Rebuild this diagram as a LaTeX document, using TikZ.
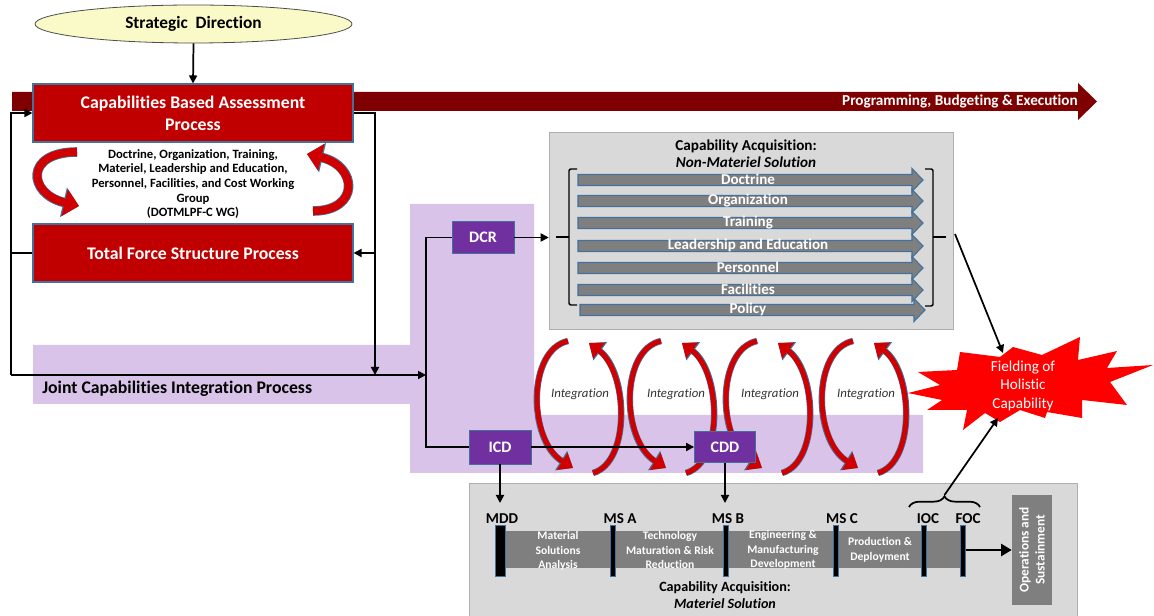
\documentclass[tikz,border=0pt]{standalone}
\usepackage{fontspec}
\setmainfont{Carlito}[Ligatures=NoCommon]
\usetikzlibrary{arrows.meta,shapes.geometric,decorations.pathreplacing,calc}

\definecolor{cbared}{HTML}{C00000}
\definecolor{pbered}{HTML}{7F0000}
\definecolor{edgeblue}{HTML}{41719C}
\definecolor{jcpurple}{HTML}{D9C3E9}
\definecolor{docpurple}{HTML}{7030A0}
\definecolor{panelgray}{HTML}{D9D9D9}
\definecolor{bargray}{HTML}{7F7F7F}
\definecolor{sdyellow}{HTML}{FAFAC8}
\definecolor{ribbonred}{HTML}{D00000}
\definecolor{starred}{HTML}{FF0000}

% curved ribbon arrow: outline pass, then red pass
\newcommand\ribbonarrow[5][small]{%
  \draw[ribbon edge #1] #2 .. controls #3 and #4 .. #5;
  \draw[ribbon fill #1] #2 .. controls #3 and #4 .. #5;
}

\begin{document}
\begin{tikzpicture}[x=0.75pt,y=-0.75pt,
  procbox/.style={draw=edgeblue, line width=0.8pt, fill=cbared, text=white,
    font=\bfseries\fontsize{13.3}{16.5}\selectfont, minimum width=240pt,
    minimum height=43.5pt, align=center, inner sep=0pt},
  docbox/.style={draw=edgeblue, line width=0.6pt, fill=docpurple, text=white,
    font=\bfseries\fontsize{12}{14}\selectfont, minimum width=46.5pt,
    minimum height=24pt, inner sep=0pt},
  panel/.style={fill=panelgray, draw=panelgray!80!black, line width=0.4pt, inner sep=0pt},
  flow/.style={line width=1.3pt, -{Triangle[length=6pt,width=6pt]}},
  link/.style={line width=1.3pt},
  lane/.style={fill=bargray, draw=edgeblue, line width=0.8pt},
  lanetext/.style={text=white, font=\bfseries\fontsize{11.3}{13}\selectfont, inner sep=0pt},
  milestone/.style={font=\bfseries\fontsize{11.3}{13}\selectfont, inner sep=0pt},
  phase/.style={text=white, font=\bfseries\fontsize{8.7}{10.9}\selectfont, align=center, inner sep=0pt},
  bar/.style={fill=black, draw=edgeblue, line width=0.6pt},
  ribbon edge small/.style={draw=edgeblue, line width=4.8pt, -{Triangle[length=10.5pt,width=16.5pt]}},
  ribbon fill small/.style={draw=ribbonred, line width=3.7pt, -{Triangle[length=9.5pt,width=14.5pt]}},
  ribbon edge big/.style={draw=edgeblue, line width=7.2pt, -{Triangle[length=12pt,width=22pt]}},
  ribbon fill big/.style={draw=ribbonred, line width=6pt, -{Triangle[length=11pt,width=20pt]}},
]
\useasboundingbox (0,0) rectangle (1154,616);

% ---- Joint Capabilities Integration Process area
\fill[jcpurple] (33,345) -- (410,345) -- (410,204) -- (534,204) -- (534,415)
  -- (923,415) -- (923,473) -- (410,473) -- (410,404) -- (33,404) -- cycle;
\node[anchor=west, font=\bfseries\fontsize{13.3}{15}\selectfont, inner sep=0pt] (jcip)
  at (42,389) {Joint Capabilities Integration Process};

% ---- acquisition panels
\node[panel, minimum width=303pt, minimum height=147.75pt] (nmbox) at (751,230.5) {};
\node[panel, minimum width=456pt, minimum height=99.75pt] (matbox) at (773,549.5) {};

% ---- programming, budgeting and execution arrow
\fill[pbered] (12,92) -- (1078,92) -- (1078,83) -- (1097,101.5) -- (1078,120)
  -- (1078,111) -- (12,111) -- cycle;
\node[anchor=east, text=white, font=\bfseries\fontsize{11.4}{13}\selectfont, inner sep=0pt]
  (pbe) at (1078,101.5) {Programming, Budgeting \& Execution};

% ---- strategic direction and the assessment loop
\node[ellipse, fill=sdyellow, draw=black!70, line width=0.6pt, minimum width=237.75pt,
  minimum height=28.5pt, inner sep=0pt, font=\bfseries\fontsize{13}{15}\selectfont]
  (sd) at (193.5,24) {Strategic\ \ Direction};
\node[procbox] (cba) at (193,113) {Capabilities Based Assessment\\Process};
\node[procbox] (tfs) at (193,253) {Total Force Structure Process};
\node[align=center, font=\bfseries\fontsize{9.5}{10.9}\selectfont, inner sep=0pt] (wg)
  at (193,184) {Doctrine, Organization, Training,\\Materiel, Leadership and Education,\\
  Personnel, Facilities, and Cost Working\\Group\\(DOTMLPF-C WG)};
\draw[flow] (sd.south) -- (cba.north);

\ribbonarrow[big]{(77,152)}{(24,152)}{(28,194)}{(79,206)}
\ribbonarrow[big]{(313,211)}{(360,211)}{(358,166)}{(307,154)}

\coordinate (lrail) at (11,375);
\coordinate (rrail) at (375,375);
\coordinate (vrail) at (426,375);
\draw[link] (tfs.west) -- (tfs.west -| lrail);
\draw[flow] (lrail) |- (cba.west);
\draw[flow] (lrail) -- (vrail);
\draw[flow] (cba.east) -| (rrail);
\draw[flow] (tfs.east -| rrail) -- (tfs.east);

% ---- integration ribbons (behind the documents and their arrows)
\foreach \dx/\tx [count=\i] in {0/580, 93/676, 189/770, 285/866} {
  \ribbonarrow{({568+\dx},341)}{({527+\dx},350)}{({528+\dx},440)}{({573+\dx},468)}
  \ribbonarrow{({593+\dx},473)}{({631+\dx},462)}{({628+\dx},372)}{({589+\dx},343)}
  \node[font=\itshape\fontsize{9.6}{11}\selectfont, text=black!80, inner sep=0pt]
    (integ\i) at (\tx,394.5) {Integration};
}

% ---- requirement documents
\node[docbox] (dcr) at (483,237.5) {DCR};
\node[docbox, minimum height=25.5pt] (icd) at (500,447) {ICD};
\node[docbox, minimum width=45.75pt, minimum height=23pt] (cdd) at (725,447) {CDD};
\draw[link] (dcr.west) -| (vrail) |- (icd.west);
\draw[flow] (dcr.east) -- (dcr.east -| nmbox.west);
\draw[flow] (icd.east) -- (cdd.west);

% ---- non-materiel solution lanes
\node[align=center, font=\bfseries\fontsize{11.4}{12.75}\selectfont, inner sep=0pt] (nmtitle)
  at (746,153.5) {Capability Acquisition:\\\textit{Non-Materiel Solution}};
\foreach \y/\lbl/\xs/\xe [count=\i] in {180/Doctrine/578/923, 201/Organization/578/923,
    223/Training/578/923, 246/Leadership and Education/578/923, 268/Personnel/578/923,
    290/Facilities/578/923, 310/Policy/580/925} {
  \draw[lane] (\xs,\y-5.5) -- (\xe-11,\y-5.5) -- (\xe-11,\y-11.5) -- (\xe,\y)
    -- (\xe-11,\y+11.5) -- (\xe-11,\y+5.5) -- (\xs,\y+5.5) -- cycle;
  \node[lanetext] (lane\i) at (748,\y-0.5) {\lbl};
}
\coordinate (brL) at (569,237);
\coordinate (brR) at (933,237);
\draw[link, line width=1.1pt, rounded corners=1.5pt] (577,169) -- (569,169) -- (569,305) -- (577,305);
\draw[link, line width=1.1pt, rounded corners=1.5pt] (925,169) -- (933,169) -- (933,306) -- (925,306);
\draw[link, line width=1.1pt] (brL) -- ++(-13,0);
\draw[link, line width=1.1pt] (brR) -- ++(13,0);

% ---- fielding burst
\fill[starred] (908,393) -- (940,385) -- (918,372) -- (957,370) -- (960,352) -- (1000,357)
  -- (1013,347) -- (1042,355) -- (1080,337) -- (1078,360) -- (1117,351) -- (1107,368)
  -- (1153,365) -- (1110,382) -- (1127,405) -- (1082,400) -- (1082,418) -- (1047,412)
  -- (1045,418) -- (1020,410) -- (1000,422) -- (985,413) -- (963,430) -- (967,410)
  -- (927,410) -- (942,400) -- cycle;
\node[align=center, text=white, font=\fontsize{11.4}{13.9}\selectfont, inner sep=0pt]
  (field) at (1023,385.5) {Fielding of\\Holistic\\Capability};
\coordinate (fieldN) at (1003,353);
\coordinate (fieldS) at (998,418);
\coordinate (nmout) at (955,234);
\draw[flow] (nmout) -- (fieldN);

% ---- materiel solution timeline
\fill[bargray] (505,531) rectangle (963,568);
\draw[bar] (495,525) rectangle (505,576);
\foreach \x in {613,726,836,924,963}
  \draw[bar] (\x-2.5,525) rectangle (\x+2.5,576);
\node[milestone] (mdd) at (502,519) {MDD};
\node[milestone] (msa) at (620,519) {MS A};
\node[milestone] (msb) at (728,519) {MS B};
\node[milestone] (msc) at (842,519) {MS C};
\node[milestone] (ioc) at (928,519) {IOC};
\node[milestone] (foc) at (968,519) {FOC};
\node[phase] (msa-ph) at (558,551) {Material\\Solutions\\Analysis};
\node[phase] (tmrr-ph) at (670,550) {Technology\\Maturation \& Risk\\Reduction};
\node[phase] (emd-ph) at (783,550) {Engineering \&\\Manufacturing\\Development};
\node[phase] (pd-ph) at (880,550) {Production \&\\Deployment};
\node[align=center, font=\bfseries\fontsize{10.6}{12.5}\selectfont, inner sep=0pt] (mattitle)
  at (725,595) {Capability Acquisition:\\\textit{Materiel Solution}};
\node[fill=bargray, minimum width=30pt, minimum height=83pt, inner sep=0pt] (ops) at (1032,550) {};
\node[rotate=90, align=center, text=white, font=\bfseries\fontsize{10}{12}\selectfont, inner sep=0pt]
  (opstext) at (ops.center) {Operations and\\Sustainment};

\coordinate (mddtop) at (500,503);
\coordinate (msbtop) at (725,503);
\draw[flow] (icd.south) -- (icd.south |- mddtop);
\draw[flow] (cdd.south) -- (cdd.south |- msbtop);
\coordinate (focout) at (966,550);
\draw[line width=2pt, -{Triangle[length=8pt,width=9pt]}] (focout) -- (ops.west);

\draw[link, decorate, decoration={brace, amplitude=8pt}] (909,507) -- (980,507);
\coordinate (bracetip) at (944.5,495);
\draw[flow] (bracetip) -- (fieldS);
\end{tikzpicture}
\end{document}
